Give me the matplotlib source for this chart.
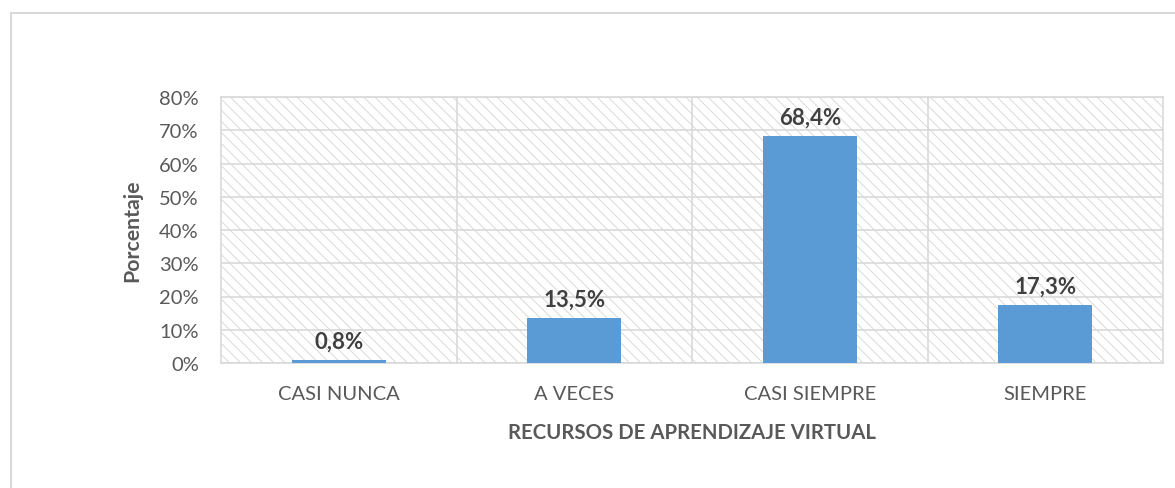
import matplotlib
matplotlib.use('Agg')
import matplotlib.pyplot as plt
from matplotlib.patches import Rectangle
from matplotlib.ticker import PercentFormatter, FixedLocator

categorias = ["CASI NUNCA", "A VECES", "CASI SIEMPRE", "SIEMPRE"]
porcentajes = [0.8, 13.5, 68.4, 17.3]
etiquetas = ["0,8%", "13,5%", "68,4%", "17,3%"]
yticks = [0, 10, 20, 30, 40, 50, 60, 70, 80]

GRIS = '#d9d9d9'
AZUL = '#5b9bd5'
TEXTO = '#595959'
TEXTO_OSC = '#404040'

plt.rcParams['font.family'] = ['Lato', 'DejaVu Sans']
plt.rcParams['hatch.linewidth'] = 0.6

fig = plt.figure(figsize=(11.75, 4.89), dpi=100)
ax = fig.add_axes([221/1175, 1 - 364/489, (1163 - 221)/1175, (364 - 98)/489])

# borde exterior del grafico (se sale por la derecha y abajo)
fig.patches.append(Rectangle((11/1175, -0.1), 1.1, 0.9714 + 0.1, transform=fig.transFigure,
                             fill=False, edgecolor=GRIS, linewidth=1.5))

# fondo rayado del area de trazado
ax.add_patch(Rectangle((0, 0), 1, 1, transform=ax.transAxes, facecolor='white',
                       hatch='\\\\\\', edgecolor='#d4d4d4', linewidth=0, zorder=0))

x = list(range(len(categorias)))
ax.bar(x, porcentajes, width=0.4, color=AZUL, zorder=3)

for xi, v, t in zip(x, porcentajes, etiquetas):
    ax.annotate(t, (xi, v), xytext=(0, 6), textcoords='offset points', ha='center', va='bottom',
                fontsize=16, fontweight='bold', color=TEXTO_OSC, zorder=4)

ax.set_xlim(-0.5, len(categorias) - 0.5)
ax.set_ylim(0, 80)
ax.set_yticks(yticks)
ax.yaxis.set_major_formatter(PercentFormatter(decimals=0))
ax.set_xticks(x)
ax.set_xticklabels(categorias)
ax.xaxis.set_minor_locator(FixedLocator([0.5, 1.5, 2.5]))

ax.grid(axis='y', which='major', color=GRIS, linewidth=1.2, zorder=1)
ax.grid(axis='x', which='minor', color=GRIS, linewidth=1.2, zorder=1)
ax.set_axisbelow(True)

ax.tick_params(axis='both', which='both', length=0, labelsize=14.5, labelcolor=TEXTO)
ax.tick_params(axis='y', pad=16)
ax.tick_params(axis='x', pad=16)
for s in ax.spines.values():
    s.set_color(GRIS)
    s.set_linewidth(1.2)

ax.set_xlabel("RECURSOS DE APRENDIZAJE VIRTUAL", fontsize=14.7, fontweight='bold',
              color=TEXTO, labelpad=14)
ax.set_ylabel("Porcentaje", fontsize=15.3, fontweight='bold', color=TEXTO, labelpad=12)

fig.savefig("out.png", dpi=100, facecolor='white')
